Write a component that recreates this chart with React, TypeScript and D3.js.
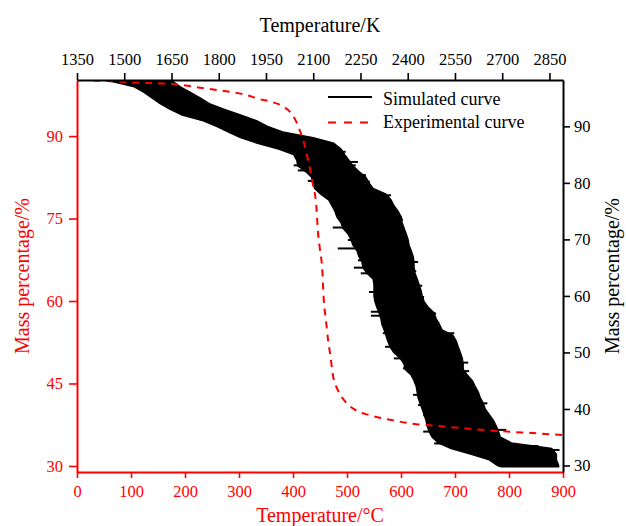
import React, { useEffect, useRef } from "react";
import * as d3 from "d3";

// bottom / top axis ticks
const TEMP_C_TICKS = [0, 100, 200, 300, 400, 500, 600, 700, 800, 900];
const TEMP_K_TICKS = [1350, 1500, 1650, 1800, 1950, 2100, 2250, 2400, 2550, 2700, 2850];
const LEFT_TICKS = [30, 45, 60, 75, 90];
const RIGHT_TICKS = [30, 40, 50, 60, 70, 80, 90];

// simulated curve (top K axis, right mass axis): band of the noisy trace
const simMass = [
  98.2, 98, 97, 96, 95, 94, 93, 92, 91, 90, 89, 88, 87, 86, 85, 84, 83, 82, 81, 80,
  79, 78, 77, 76, 75, 74, 73, 72, 71, 70, 69, 68, 67, 66, 65, 64, 63, 62, 61, 60,
  59, 58, 57, 56, 55, 54, 53, 52, 51, 50, 49, 48, 47, 46, 45, 44, 43, 42, 41, 40,
  39, 38, 37, 36, 35, 34, 33, 32, 31, 30, 29.8,
];
const simLeftK = [
  1430, 1455, 1532, 1563, 1589, 1614, 1646, 1684, 1751, 1793, 1831, 1869, 1923, 1990, 2038, 2048, 2051, 2076, 2095, 2098,
  2105, 2124, 2149, 2159, 2169, 2175, 2188, 2194, 2210, 2220, 2226, 2239, 2245, 2255, 2258, 2271, 2290, 2293, 2293, 2293,
  2296, 2302, 2309, 2315, 2318, 2325, 2331, 2337, 2344, 2356, 2376, 2388, 2392, 2411, 2420, 2427, 2430, 2433, 2439, 2446,
  2452, 2458, 2462, 2468, 2478, 2497, 2538, 2602, 2659, 2685, 2697,
];
const simRightK = [
  1640, 1653, 1678, 1710, 1742, 1770, 1818, 1869, 1920, 1955, 2003, 2100, 2165, 2188, 2200, 2213, 2226, 2245, 2267, 2277,
  2290, 2331, 2347, 2356, 2369, 2379, 2382, 2388, 2395, 2401, 2404, 2411, 2417, 2420, 2420, 2423, 2430, 2436, 2442, 2446,
  2452, 2465, 2484, 2490, 2500, 2509, 2544, 2554, 2560, 2567, 2573, 2576, 2576, 2589, 2605, 2614, 2624, 2630, 2640, 2646,
  2659, 2672, 2681, 2688, 2694, 2729, 2857, 2872, 2872, 2879, 2879,
];

// horizontal spikes sticking out of the simulated band: mass, start K, end K
const spikeMass = [
  // left side
  85.9, 83.1, 82.2, 80.35, 76.46, 74.1, 72.1, 69.9, 68.4, 66.3, 65.0, 64.0, 60.7, 57.2, 56.5, 53.4,
  51.0, 48.95, 47.2, 42.5, 40.7, 38.9, 36.0, 33.9,
  // right side
  85.5, 83.7, 83.1, 81.4, 80.2, 77.8, 76.4, 75.0, 73.5, 71.9, 68.4, 66.0, 64.4, 61.8, 59.8, 56.9,
  55.25, 53.4, 51.9, 50.1, 48.2, 46.7, 44.5, 43.65, 41.0, 39.05, 36.3, 33.45, 32.75,
];
const spikeStartK = [
  2038, 2038, 2051, 2083, 2156, 2181, 2162, 2210, 2178, 2242, 2229, 2251, 2277, 2283, 2283, 2321,
  2328, 2356, 2385, 2417, 2433, 2449, 2449, 2484,
  2165, 2197, 2210, 2242, 2251, 2293, 2315, 2331, 2347, 2347, 2363, 2388, 2401, 2411, 2420, 2442,
  2452, 2484, 2497, 2528, 2548, 2548, 2560, 2570, 2611, 2611, 2665, 2739, 2815,
];
const spikeEndK = [
  2102, 2092, 2092, 2114, 2194, 2210, 2226, 2242, 2245, 2268, 2274, 2283, 2309, 2325, 2315, 2353,
  2353, 2401, 2420, 2452, 2465, 2474, 2516, 2538,
  2203, 2242, 2235, 2267, 2280, 2347, 2340, 2369, 2385, 2391, 2398, 2433, 2427, 2446, 2452, 2490,
  2500, 2548, 2528, 2563, 2592, 2595, 2602, 2592, 2653, 2656, 2713, 2815, 2882,
];

// experimental curve (bottom °C axis, left mass axis)
const expTempC = [
  30, 56, 80, 117, 148, 180, 228, 272, 309, 339, 361, 383, 398, 407, 413, 422, 428, 432, 437, 443,
  446, 450, 454, 457, 461, 465, 469, 474, 483, 496, 515, 543, 580, 628, 665, 722, 789, 857, 900,
];
const expMass = [
  100.1, 100.0, 99.9, 99.7, 99.6, 99.45, 98.8, 98.2, 97.6, 96.7, 96.2, 95.3, 94.0, 92.4, 90.9, 88.2, 85.6, 83.8, 81.1, 77.5,
  72.9, 69.3, 66.0, 60.2, 56.5, 52.9, 50.2, 46.5, 43.8, 41.8, 40.2, 39.2, 38.4, 37.6, 37.3, 36.8, 36.3, 35.9, 35.6,
];

const RED = "#ff0000";
const FONT = "'Liberation Serif', 'Times New Roman', serif";

export default function App() {
  const ref = useRef<SVGSVGElement>(null);

  useEffect(() => {
    document.body.style.margin = "0";
    drawChart();
  }, []);

  const drawChart = () => {
    const svg = d3.select(ref.current);
    svg.selectAll("*").remove();

    const left = 77, right = 563, top = 80, bottom = 472;

    const x = d3.scaleLinear().domain([0, 900]).range([left, right]);
    const xK = d3.scaleLinear().domain([1350, 2893]).range([left, right]);
    const yL = d3.scaleLinear().domain([28.9, 100.2]).range([bottom, top]);
    const yR = d3.scaleLinear().domain([28.85, 98.2]).range([bottom, top]);

    svg.append("rect").attr("width", 626).attr("height", 526).attr("fill", "white");

    svg.append("defs").append("clipPath").attr("id", "plot-clip")
      .append("rect")
      .attr("x", left).attr("y", top)
      .attr("width", right - left).attr("height", bottom - top);

    const plot = svg.append("g").attr("clip-path", "url(#plot-clip)");

    // simulated band
    const idx = d3.range(simMass.length);
    const band = d3.area<number>()
      .y(i => yR(simMass[i]))
      .x0(i => xK(simLeftK[i]))
      .x1(i => xK(simRightK[i]));

    plot.append("path")
      .attr("d", band(idx))
      .attr("fill", "black")
      .attr("stroke", "black")
      .attr("stroke-width", 1.5);

    plot.append("g")
      .selectAll("line")
      .data(d3.range(spikeMass.length))
      .join("line")
      .attr("x1", i => xK(spikeStartK[i]))
      .attr("x2", i => xK(spikeEndK[i]))
      .attr("y1", i => yR(spikeMass[i]))
      .attr("y2", i => yR(spikeMass[i]))
      .attr("stroke", "black")
      .attr("stroke-width", 2);

    // experimental curve
    const expLine = d3.line<number>()
      .curve(d3.curveMonotoneX)
      .x(i => x(expTempC[i]))
      .y(i => yL(expMass[i]));

    plot.append("path")
      .attr("d", expLine(d3.range(expTempC.length)))
      .attr("fill", "none")
      .attr("stroke", RED)
      .attr("stroke-width", 2)
      .attr("stroke-dasharray", "7,6");

    // axes
    const styleAxis = (g, color) => {
      g.attr("font-size", 16.5).attr("font-family", FONT);
      g.select(".domain").attr("stroke", color).attr("stroke-width", 2);
      g.selectAll(".tick line").attr("stroke", color).attr("stroke-width", 1.6);
      g.selectAll(".tick text").attr("fill", color);
    };

    const fmt = d3.format("d");

    const gBottom = svg.append("g")
      .attr("transform", `translate(0,${bottom})`)
      .call(d3.axisBottom(x).tickValues(TEMP_C_TICKS).tickFormat(fmt).tickSize(6).tickSizeOuter(0).tickPadding(7));
    styleAxis(gBottom, RED);

    const gLeft = svg.append("g")
      .attr("transform", `translate(${left},0)`)
      .call(d3.axisLeft(yL).tickValues(LEFT_TICKS).tickFormat(fmt).tickSize(8).tickSizeOuter(0).tickPadding(6));
    styleAxis(gLeft, RED);

    const gTop = svg.append("g")
      .attr("transform", `translate(0,${top})`)
      .call(d3.axisTop(xK).tickValues(TEMP_K_TICKS).tickFormat(fmt).tickSize(7).tickSizeOuter(0).tickPadding(8));
    styleAxis(gTop, "black");

    const gRight = svg.append("g")
      .attr("transform", `translate(${right},0)`)
      .call(d3.axisRight(yR).tickValues(RIGHT_TICKS).tickFormat(fmt).tickSize(7).tickSizeOuter(0).tickPadding(4));
    styleAxis(gRight, "black");

    // titles
    const title = (txt, color) =>
      svg.append("text")
        .attr("font-family", FONT)
        .attr("font-size", 20)
        .attr("fill", color)
        .attr("text-anchor", "middle")
        .text(txt);

    title("Temperature/K", "black").attr("x", 320).attr("y", 32);
    title("Temperature/°C", RED).attr("x", 320).attr("y", 522);
    title("Mass percentage/%", RED).attr("transform", "translate(29,276) rotate(-90)");
    title("Mass percentage/%", "black").attr("transform", "translate(619,276) rotate(-90)");

    // legend
    const legend = svg.append("g").attr("font-family", FONT).attr("font-size", 18);
    legend.append("line")
      .attr("x1", 328).attr("x2", 372).attr("y1", 97).attr("y2", 97)
      .attr("stroke", "black").attr("stroke-width", 2);
    legend.append("text").attr("x", 383).attr("y", 105).text("Simulated curve");
    legend.append("line")
      .attr("x1", 328).attr("x2", 374).attr("y1", 122.5).attr("y2", 122.5)
      .attr("stroke", RED).attr("stroke-width", 2).attr("stroke-dasharray", "8,8");
    legend.append("text").attr("x", 383).attr("y", 128).text("Experimental curve");
  };

  return <svg ref={ref} width={626} height={526} style={{ display: "block" }} />;
}
